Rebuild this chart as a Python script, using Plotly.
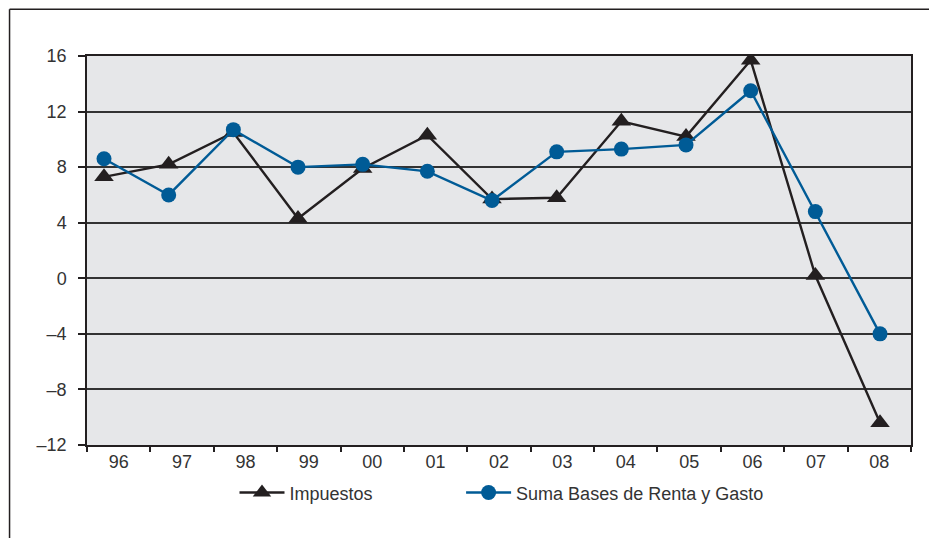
import plotly.graph_objects as go

years = ["96", "97", "98", "99", "00", "01", "02", "03", "04", "05", "06", "07", "08"]
impuestos = [7.3, 8.2, 10.5, 4.3, 7.9, 10.3, 5.7, 5.8, 11.3, 10.2, 15.7, 0.2, -10.4]
suma_bases = [8.6, 6.0, 10.7, 8.0, 8.2, 7.7, 5.6, 9.1, 9.3, 9.6, 13.5, 4.8, -4.0]
y_ticks = [-12, -8, -4, 0, 4, 8, 12, 16]
y_ticktext = ["–12", "–8", "–4", "0", "4", "8", "12", "16"]

black = "#231f20"
blue = "#005b96"
font = "Liberation Sans, Arial, sans-serif"

idx = list(range(len(years)))

fig = go.Figure()
# holds the category labels on the bottom axis
fig.add_trace(go.Scatter(x=years, y=impuestos, mode="none", showlegend=False,
                         hoverinfo="skip"))
# the points in the original sit slightly off the label centres, so they
# are drawn on an overlaid numeric axis
fig.add_trace(go.Scatter(
    x=idx, y=impuestos, name="Impuestos", mode="lines+markers",
    line=dict(color=black, width=2.4),
    marker=dict(symbol="triangle-up", size=17, color=black),
    xaxis="x2", legend="legend", customdata=years,
    hovertemplate="%{customdata}: %{y}<extra>Impuestos</extra>",
))
fig.add_trace(go.Scatter(
    x=idx, y=suma_bases, name="Suma Bases de Renta y Gasto", mode="lines+markers",
    line=dict(color=blue, width=2.4),
    marker=dict(symbol="circle", size=15, color=blue),
    xaxis="x2", legend="legend2", customdata=years,
    hovertemplate="%{customdata}: %{y}<extra>Suma Bases</extra>",
))

legend_style = dict(
    orientation="h", xanchor="left", y=-0.123, yanchor="middle", itemwidth=45,
    font=dict(size=18, color="#333333"), bgcolor="rgba(0,0,0,0)",
)

# the page body has an 8px margin, so the figure is drawn a little smaller
fig.update_layout(
    width=929, height=530,
    margin=dict(l=79, r=26, t=48, b=93),
    paper_bgcolor="white",
    plot_bgcolor="#e6e7e9",
    font=dict(family=font, size=18, color="#333333"),
    showlegend=True,
    legend=dict(x=0.179, **legend_style),
    legend2=dict(x=0.454, **legend_style),
    xaxis=dict(
        type="category", categoryarray=years, range=[-0.5, 12.5],
        tickson="boundaries", ticks="outside", ticklen=5,
        tickcolor=black, tickwidth=1.5,
        showgrid=False, showline=True, linecolor=black, linewidth=1.5, mirror=True,
        zeroline=False,
    ),
    xaxis2=dict(
        overlaying="x", range=[-0.263, 12.479], visible=False,
        showgrid=False, zeroline=False,
    ),
    yaxis=dict(
        range=[-12, 16], tickvals=y_ticks, ticktext=y_ticktext,
        ticks="outside", ticklen=7, tickcolor=black, tickwidth=1.5,
        ticklabelstandoff=8,
        showgrid=True, gridcolor="#333333", gridwidth=1.5,
        showline=True, linecolor=black, linewidth=1.5, mirror=True,
        zeroline=False,
    ),
)

# outer frame of the figure (left and top edges)
fig.add_shape(type="line", xref="paper", yref="paper",
              x0=-0.094, x1=-0.094, y0=1.12, y1=-0.3,
              line=dict(color=black, width=1.5))
fig.add_shape(type="line", xref="paper", yref="paper",
              x0=-0.094, x1=1.04, y0=1.12, y1=1.12,
              line=dict(color=black, width=1.5))

fig.write_html("out.html")
